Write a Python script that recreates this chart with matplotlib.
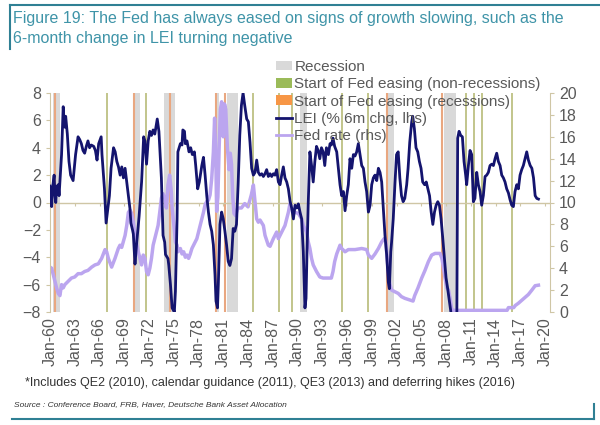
import matplotlib
matplotlib.use("Agg")
import matplotlib.pyplot as plt
from matplotlib.lines import Line2D
from matplotlib.patches import Patch

plt.rcParams['font.family'] = ['Liberation Sans', 'DejaVu Sans']

# ---------------- data ----------------
lei_years = [
    1960.0, 1960.1, 1960.2, 1960.3, 1960.4, 1960.5, 1960.6, 1960.7, 1960.8, 1960.9,
    1961.0, 1961.1, 1961.2, 1961.4, 1961.6, 1961.7, 1961.8, 1961.9, 1962.1, 1962.3,
    1962.5, 1962.8, 1963.1, 1963.4, 1963.6, 1963.8, 1964.0, 1964.2, 1964.4, 1964.6,
    1964.8, 1965.0, 1965.3, 1965.5, 1965.7, 1965.9, 1966.2, 1966.3, 1966.6, 1966.8,
    1966.9, 1967.2, 1967.4, 1967.7, 1967.9, 1968.1, 1968.3, 1968.5, 1968.7, 1968.9,
    1969.1, 1969.3, 1969.5, 1969.7, 1969.8, 1970.0, 1970.1, 1970.3, 1970.5, 1970.8,
    1971.1, 1971.35, 1971.5, 1971.7, 1971.9, 1972.1, 1972.3, 1972.5, 1972.7, 1973.0,
    1973.2, 1973.5, 1973.7, 1973.9, 1974.0, 1974.3, 1974.4, 1974.6, 1974.8, 1975.07,
    1975.2, 1975.4, 1975.5, 1975.8, 1976.0, 1976.1, 1976.3, 1976.4, 1976.6, 1976.85,
    1977.05, 1977.25, 1977.5, 1977.66, 1977.9, 1978.1, 1978.4, 1978.6, 1978.8, 1979.0,
    1979.2, 1979.4, 1979.6, 1979.8, 1980.0, 1980.12, 1980.3, 1980.4, 1980.6, 1980.8,
    1981.0, 1981.2, 1981.4, 1981.6, 1981.8, 1982.0, 1982.2, 1982.4, 1982.6, 1982.8,
    1983.0, 1983.2, 1983.4, 1983.6, 1983.84, 1984.04, 1984.24, 1984.44, 1984.65, 1984.85,
    1985.05, 1985.25, 1985.45, 1985.66, 1985.86, 1986.06, 1986.26, 1986.46, 1986.67, 1986.87,
    1987.07, 1987.27, 1987.47, 1987.68, 1987.88, 1988.08, 1988.28, 1988.48, 1988.69, 1988.89,
    1989.09, 1989.29, 1989.5, 1989.7, 1989.9, 1990.1, 1990.3, 1990.5, 1990.7, 1990.9,
    1991.03, 1991.15, 1991.3, 1991.5, 1991.7, 1991.9, 1992.1, 1992.3, 1992.5, 1992.7,
    1992.9, 1993.1, 1993.3, 1993.5, 1993.74, 1993.94, 1994.1, 1994.3, 1994.5, 1994.75,
    1994.95, 1995.15, 1995.35, 1995.56, 1995.76, 1995.96, 1996.16, 1996.36, 1996.57, 1996.77,
    1996.97, 1997.17, 1997.37, 1997.58, 1997.78, 1997.98, 1998.18, 1998.38, 1998.59, 1998.79,
    1998.99, 1999.19, 1999.39, 1999.6, 1999.8, 2000.0, 2000.2, 2000.4, 2000.6, 2000.8,
    2001.0, 2001.13, 2001.3, 2001.4, 2001.6, 2001.8, 2002.0, 2002.2, 2002.4, 2002.6,
    2002.8, 2003.0, 2003.23, 2003.4, 2003.6, 2003.84, 2003.96, 2004.16, 2004.36, 2004.57,
    2004.77, 2004.97, 2005.17, 2005.4, 2005.6, 2005.8, 2006.0, 2006.2, 2006.4, 2006.6,
    2006.8, 2007.0, 2007.2, 2007.4, 2007.6, 2007.8, 2008.0, 2008.2, 2008.4, 2008.7,
    2009.1, 2009.3, 2009.41, 2009.58, 2009.78, 2009.98, 2010.18, 2010.38, 2010.5, 2010.71,
    2010.91, 2011.11, 2011.31, 2011.5, 2011.72, 2011.92, 2012.12, 2012.32, 2012.52, 2012.73,
    2012.93, 2013.13, 2013.33, 2013.54, 2013.74, 2013.94, 2014.14, 2014.34, 2014.55, 2014.75,
    2014.95, 2015.15, 2015.35, 2015.56, 2015.76, 2015.96, 2016.16, 2016.36, 2016.57, 2016.77,
    2016.97, 2017.17, 2017.37, 2017.58, 2017.78, 2017.98, 2018.2, 2018.4, 2018.6, 2018.8,
    2019.0, 2019.2,
]
lei_values = [
    1.2, 0.8, -0.3, 1.0, 1.5, 2.0, 0.5, 0.0, 1.2, 0.6,
    1.3, 0.5, 1.5, 3.5, 7.0, 6.0, 5.5, 6.3, 5.0, 3.0,
    2.0, 1.6, 3.5, 4.8, 4.6, 4.3, 3.8, 3.6, 4.1, 4.5,
    4.0, 4.2, 4.1, 3.8, 3.1, 4.3, 4.8, 3.5, 1.0, -1.5,
    -1.0, 0.5, 2.5, 4.0, 3.7, 3.0, 2.6, 2.0, 2.6, 1.8,
    2.5, 1.5, 0.5, -0.5, -1.5, -2.0, -2.3, -4.5, -3.0, -1.0,
    1.5, 4.8, 4.5, 2.8, 4.5, 5.2, 4.9, 5.3, 5.0, 6.1,
    5.2, 1.8, -2.4, -2.9, -3.8, -4.1, -4.6, -6.0, -7.7, -8.0,
    -6.5, -1.2, 3.7, 4.3, 4.2, 5.3, 5.2, 4.3, 4.5, 3.7,
    4.0, 3.5, 3.7, 2.7, 1.0, 1.5, 2.7, 3.3, 2.0, 0.5,
    -0.7, -1.6, -2.1, -3.1, -5.3, -7.2, -7.7, -6.0, -1.6, -0.7,
    -1.2, -2.1, -3.1, -4.3, -4.6, -4.1, -1.9, -2.1, -1.6, 1.3,
    4.9, 7.1, 8.0, 7.1, 6.1, 5.9, 4.4, 2.5, 2.0, 2.2,
    3.1, 2.2, 2.0, 2.1, 1.9, 2.1, 2.4, 1.9, 2.1, 1.9,
    2.1, 2.0, 2.4, 1.5, 1.3, 2.0, 2.6, 1.8, 1.5, 1.0,
    0.1, -0.4, -1.2, -0.2, -0.4, -0.1, -0.7, -1.2, -3.6, -7.7,
    -7.0, -3.6, 0.0, 3.7, 2.7, 1.5, 3.0, 4.1, 3.8, 3.2,
    4.0, 3.7, 2.7, 4.0, 3.5, 4.3, 4.2, 4.7, 4.1, 3.7,
    2.5, 1.3, 0.5, 0.8, -0.6, 0.5, 1.3, 3.2, 2.5, 3.5,
    3.4, 3.7, 4.3, 3.5, 2.7, 2.5, 1.5, 0.8, -0.7, -0.2,
    1.3, 1.8, 2.0, 1.6, 2.5, 2.2, 1.5, -0.4, -2.4, -3.8,
    -5.8, -6.3, -3.6, -2.9, -1.2, 1.3, 3.5, 3.7, 1.8, 0.5,
    0.06, 0.3, 1.3, 2.5, 4.4, 5.9, 6.3, 5.4, 4.0, 3.7,
    3.0, 2.5, 1.5, 1.3, 1.5, 1.0, 0.5, -0.7, -1.6, -0.7,
    -0.2, 0.06, -0.2, -1.2, -2.6, -4.1, -5.5, -6.3, -7.2, -8.5,
    -9.5, -9.5, 4.7, 5.2, 4.9, 4.8, 3.0, 2.0, 1.3, 2.7,
    3.8, 3.5, 0.06, 0.3, 2.2, 1.3, 0.8, -0.2, 0.5, 1.9,
    2.0, 2.2, 2.7, 2.8, 2.7, 3.2, 3.6, 3.0, 2.7, 2.0,
    1.8, 1.5, 1.0, 0.7, 0.2, -0.2, -0.3, 0.8, 1.3, 1.0,
    2.0, 2.4, 2.7, 3.2, 3.7, 3.1, 2.7, 2.5, 1.8, 0.5,
    0.3, 0.25,
]

fed_years = [
    1960.0, 1960.2, 1960.5, 1960.8, 1961.0, 1961.2, 1961.4, 1961.6, 1961.8, 1962.2,
    1962.6, 1963.0, 1963.4, 1963.8, 1964.2, 1964.6, 1965.05, 1965.45, 1965.86, 1966.26,
    1966.67, 1966.87, 1967.07, 1967.47, 1967.88, 1968.28, 1968.48, 1968.69, 1969.1, 1969.3,
    1969.5, 1969.7, 1969.9, 1970.1, 1970.3, 1970.7, 1971.1, 1971.3, 1971.5, 1971.7,
    1971.9, 1972.1, 1972.3, 1972.5, 1972.7, 1972.9, 1973.1, 1973.3, 1973.5, 1973.7,
    1973.9, 1974.1, 1974.3, 1974.5, 1974.7, 1974.8, 1975.1, 1975.2, 1975.4, 1975.5,
    1975.8, 1976.0, 1976.2, 1976.4, 1976.6, 1976.8, 1977.0, 1977.2, 1977.4, 1977.6,
    1977.8, 1978.0, 1978.2, 1978.4, 1978.6, 1978.8, 1979.0, 1979.2, 1979.4, 1979.6,
    1979.8, 1979.95, 1980.1, 1980.2, 1980.35, 1980.5, 1980.65, 1980.8, 1981.0, 1981.15,
    1981.3, 1981.5, 1981.7, 1981.85, 1982.0, 1982.15, 1982.3, 1982.5, 1982.7, 1982.9,
    1983.2, 1983.6, 1984.0, 1984.4, 1984.65, 1984.85, 1985.05, 1985.25, 1985.45, 1985.86,
    1986.06, 1986.46, 1986.67, 1987.07, 1987.47, 1987.68, 1987.88, 1988.08, 1988.48, 1988.89,
    1989.09, 1989.29, 1989.7, 1990.1, 1990.5, 1990.7, 1991.1, 1991.3, 1991.5, 1991.7,
    1991.9, 1992.3, 1992.7, 1993.1, 1994.1, 1994.3, 1994.5, 1994.75, 1995.15, 1995.35,
    1995.76, 1996.16, 1996.97, 1997.78, 1998.38, 1998.59, 1998.99, 1999.39, 1999.8, 2000.2,
    2000.5, 2000.69, 2000.8, 2001.0, 2001.2, 2001.4, 2001.8, 2002.2, 2002.6, 2003.0,
    2003.6, 2004.0, 2004.2, 2004.6, 2005.05, 2005.45, 2005.86, 2006.26, 2006.67, 2007.27,
    2007.5, 2007.7, 2007.9, 2008.1, 2008.3, 2008.5, 2008.7, 2009.0, 2015.4, 2015.56,
    2016.2, 2016.4, 2016.77, 2017.37, 2017.98, 2018.4, 2018.8, 2019.2,
]
fed_values = [
    4.1, 4.0, 3.1, 2.2, 1.7, 1.5, 2.5, 2.2, 2.5, 2.8,
    3.1, 3.2, 3.5, 3.5, 3.7, 3.8, 4.1, 4.3, 4.4, 4.9,
    5.7, 5.5, 4.9, 4.1, 4.9, 5.8, 6.1, 5.9, 7.0, 7.9,
    9.1, 9.3, 9.0, 8.2, 7.0, 5.5, 4.3, 5.2, 4.9, 3.7,
    3.4, 4.0, 4.9, 6.1, 6.7, 7.3, 7.9, 9.1, 10.4, 10.8,
    10.4, 9.5, 11.6, 12.5, 11.0, 9.5, 7.3, 6.4, 6.1, 5.5,
    5.8, 5.3, 5.5, 5.0, 5.2, 4.9, 5.3, 5.8, 6.1, 6.4,
    6.7, 7.3, 7.9, 8.5, 9.1, 9.8, 10.1, 10.2, 10.7, 12.2,
    14.6, 17.7, 14.0, 9.2, 10.5, 15.0, 18.5, 19.2, 16.0, 19.0,
    18.5, 15.0, 13.0, 14.5, 13.5, 10.5, 9.0, 8.8, 9.4, 9.5,
    9.5, 9.9, 9.6, 10.7, 11.6, 10.1, 8.5, 8.2, 8.4, 7.9,
    7.0, 6.1, 6.0, 6.7, 7.3, 6.7, 7.0, 7.3, 7.9, 9.1,
    9.9, 9.5, 9.1, 9.0, 8.5, 7.9, 7.3, 6.4, 5.8, 4.9,
    4.3, 3.7, 3.2, 3.1, 3.1, 3.7, 4.6, 5.3, 6.1, 5.8,
    5.5, 5.7, 5.7, 5.8, 5.7, 5.2, 4.9, 5.3, 5.8, 6.4,
    6.7, 6.5, 5.5, 3.7, 2.5, 2.0, 1.85, 1.7, 1.4, 1.25,
    1.1, 1.0, 1.5, 2.2, 3.1, 3.8, 4.6, 5.2, 5.35, 5.35,
    4.9, 4.0, 3.0, 2.2, 2.0, 1.2, 0.2, 0.15, 0.15, 0.4,
    0.4, 0.6, 0.8, 1.2, 1.6, 2.0, 2.4, 2.45,
]

recession_starts = [1960.4, 1970.0, 1973.8, 1980.0, 1981.4, 1990.3, 2000.9, 2007.75]
recession_ends = [1961.2, 1970.9, 1975.2, 1980.45, 1982.8, 1991.1, 2001.7, 2009.2]
easing_nonrecession = [1966.87, 1971.65, 1984.65, 1987.8, 1989.3, 1995.35, 1998.6,
                       2010.4, 2011.35, 2012.4, 2016.0]
easing_recession = [1960.55, 1970.2, 1974.55, 1980.12, 1981.2, 2000.8, 2007.47]

xtick_years = list(range(1960, 2021, 3))
xtick_labels = ["Jan-%02d" % (y % 100) for y in xtick_years]

# ---------------- styling ----------------
NAVY = "#14146e"
LAVENDER = "#bba5ef"
GREY_BAND = "#d9d9d9"
GREEN_LINE = "#b7bb78"
GREEN_LEG = "#9bbb59"
ORANGE_LINE = "#e9a780"
ORANGE_LEG = "#f79646"
AXIS = "#cfc6a5"
TXT = "#595959"
TEAL = "#3f94a8"
FRAME = "#2f8094"

fig = plt.figure(figsize=(6, 4.25), dpi=100)
left, right = 50 / 600, 550 / 600
bottom, top = 1 - 312 / 425, 1 - 93 / 425
ax2 = fig.add_axes([left, bottom, right - left, top - bottom])
ax = ax2.twinx()
ax.set_zorder(ax2.get_zorder() + 1)
ax.patch.set_visible(False)

# ax2 holds the right axis (fed rate) plus background elements
xmin, xmax = 1960.0, 2020.6
for s, e in zip(recession_starts, recession_ends):
    ax2.axvspan(s, e, color=GREY_BAND, lw=0, zorder=0)
for x in easing_nonrecession:
    ax2.axvline(x, color=GREEN_LINE, lw=1.2, zorder=1)
for x in easing_recession:
    ax2.axvline(x, color=ORANGE_LINE, lw=1.5, zorder=1)
# zero line of the left axis (= 10 on the right axis), acting as the category axis
ax2.axhline(10, color=AXIS, lw=1.0, zorder=1.5)
ax2.plot(fed_years, fed_values, color=LAVENDER, lw=2.5, zorder=2, solid_joinstyle='round')
ax2.set_ylim(0, 20)
ax2.set_xlim(xmin, xmax)
ax2.yaxis.tick_right()
ax2.yaxis.set_label_position("right")
ax2.set_yticks(range(0, 21, 2))

# ax holds LEI on the left axis
ax.set_ylim(-8, 8)
ax.set_xlim(xmin, xmax)
ax.vlines(xtick_years, -0.22, 0, color=AXIS, lw=0.8, zorder=1)
ax.plot(lei_years, lei_values, color=NAVY, lw=2.0, zorder=3, solid_joinstyle='round')
ax.yaxis.tick_left()
ax.yaxis.set_label_position("left")
ax.set_yticks(range(-8, 9, 2))

for a in (ax, ax2):
    for sp in ("top", "bottom"):
        a.spines[sp].set_visible(False)
    a.spines["left"].set_color(AXIS)
    a.spines["right"].set_color(AXIS)
    a.tick_params(axis='y', colors=AXIS, labelcolor=TXT, labelsize=11.5, length=3, width=0.8)
ax.spines["right"].set_visible(False)
ax2.spines["left"].set_visible(False)

ax2.set_xticks(xtick_years)
ax2.set_xticklabels(xtick_labels, rotation=90, fontsize=11.5, color=TXT)
ax2.tick_params(axis='x', length=0, pad=4)
ax.tick_params(axis='x', bottom=False, labelbottom=False)

# legend
handles = [
    Patch(facecolor=GREY_BAND, edgecolor='none'),
    Patch(facecolor=GREEN_LEG, edgecolor='none'),
    Patch(facecolor=ORANGE_LEG, edgecolor='none'),
    Line2D([], [], color=NAVY, lw=2),
    Line2D([], [], color=LAVENDER, lw=2),
]
labels = ["Recession", "Start of Fed easing (non-recessions)",
          "Start of Fed easing (recessions)", "LEI (% 6m chg, lhs)", "Fed rate (rhs)"]
leg = ax.legend(handles, labels, loc='upper left',
                bbox_to_anchor=(276 / 600, 1 - 60 / 425), bbox_transform=fig.transFigure,
                frameon=False, fontsize=11, handlelength=1.05, handleheight=0.6,
                labelspacing=0.22, handletextpad=0.15, borderpad=0, borderaxespad=0)
for t in leg.get_texts():
    t.set_color(TXT)

# title, frame, footnotes
fig.text(13 / 600, 1 - 18 / 425,
         "Figure 19: The Fed has always eased on signs of growth slowing, such as the",
         fontsize=11.5, color=TEAL, va='center', ha='left')
fig.text(13 / 600, 1 - 39 / 425, "6-month change in LEI turning negative",
         fontsize=11.5, color=TEAL, va='center', ha='left')
fig.add_artist(Line2D([10 / 600, 1.0], [1 - 5 / 425, 1 - 5 / 425], color=FRAME, lw=1.5))
fig.add_artist(Line2D([10 / 600, 10 / 600], [1 - 5 / 425, 1 - 49 / 425], color=FRAME, lw=1.5))
fig.add_artist(Line2D([12 / 600, 594 / 600], [1 - 419 / 425, 1 - 419 / 425], color=FRAME, lw=1.5))
fig.add_artist(Line2D([594 / 600, 594 / 600], [1 - 404 / 425, 1 - 419 / 425], color=FRAME, lw=1.5))

fig.text(25 / 600, 1 - 383 / 425,
         "*Includes QE2 (2010), calendar guidance (2011), QE3 (2013) and deferring hikes (2016)",
         fontsize=9, color="#333333", va='center', ha='left')
fig.text(14 / 600, 1 - 405 / 425,
         "Source : Conference Board, FRB, Haver, Deutsche Bank Asset Allocation",
         fontsize=6, color="#333333", style='italic', va='center', ha='left')

fig.savefig("out.png", dpi=100)
